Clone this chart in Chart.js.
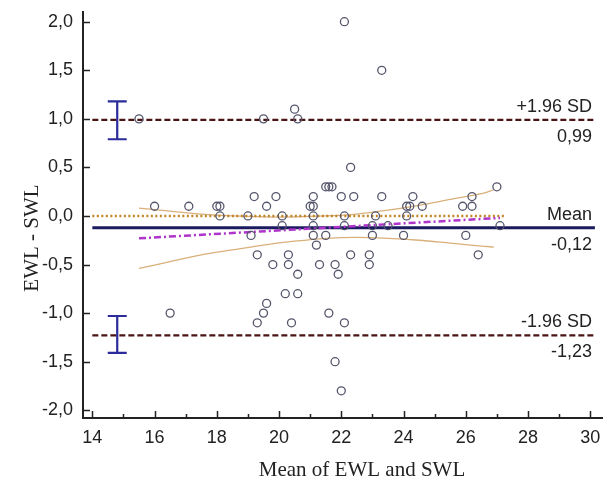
<!DOCTYPE html>
<html lang="en">
<head>
    <meta charset="UTF-8" />
    <title>Bland-Altman: EWL vs SWL</title>
    <script src="https://cdn.jsdelivr.net/npm/chart.js"></script>
    <style>
        body { margin: 0; background: #fff; }
        #wrap { width: 608px; height: 484px; }
    </style>
</head>
<body>
    <div id="wrap"><canvas id="baChart" width="608" height="484"></canvas></div>

    <script>
        // mean of the two methods (x) and their difference (y)
        const avgValues = [15.5, 19.5, 20.5, 20.6, 22.1, 23.3, 16.0, 17.1, 18.0, 18.1,
            18.1, 19.0, 19.2, 19.6, 19.9, 20.1, 20.1, 19.1, 19.3, 19.8,
            20.3, 20.3, 20.6, 20.2, 20.6, 19.6, 19.5, 19.3, 16.5, 20.4,
            21.6, 22.1, 21.8, 22.0, 22.3, 21.5, 21.6, 21.7, 21.1, 22.0,
            22.4, 23.3, 24.3, 26.2, 27.0, 21.0, 21.1, 24.1, 24.2, 24.6,
            25.9, 26.2, 21.1, 22.1, 23.1, 24.1, 21.1, 22.1, 23.0, 23.5,
            27.1, 21.1, 21.5, 23.0, 24.0, 26.0, 21.2, 22.3, 22.9, 26.4,
            21.3, 21.8, 22.9, 21.9];
        const diffValues = [1.0, 1.0, 1.1, 1.0, 2.0, 1.5, 0.1, 0.1, 0.1, 0.1,
            0.0, 0.0, 0.2, 0.1, 0.2, 0.0, -0.1, -0.2, -0.4, -0.5,
            -0.4, -0.5, -0.6, -0.8, -0.8, -0.9, -1.0, -1.1, -1.0, -1.1,
            -1.0, -1.1, -1.5, -1.8, 0.5, 0.3, 0.3, 0.3, 0.2, 0.2,
            0.2, 0.2, 0.2, 0.2, 0.3, 0.1, 0.1, 0.1, 0.1, 0.1,
            0.1, 0.1, 0.0, 0.0, 0.0, 0.0, -0.1, -0.1, -0.1, -0.1,
            -0.1, -0.2, -0.2, -0.2, -0.2, -0.2, -0.3, -0.4, -0.4, -0.4,
            -0.5, -0.5, -0.5, -0.6];

        // bias and limits of agreement
        const meanDiff = -0.12;
        const upperLoA = 0.99;
        const lowerLoA = -1.23;
        const refLineX = [14, 30.15];

        // line of equality (zero difference)
        const zeroLineX = [14, 27.3];

        // regression of differences on means, with its 95% CI curves
        const regX = [15.5, 27.1];
        const regY = [-0.23, -0.02];
        const ciX = [15.5, 16.5, 17.5, 18.5, 19.5, 20.5, 21.5, 22.5, 23.5, 24.5, 25.5, 26.5, 26.9];
        const ciUpperY = [0.08, 0.05, 0.02, 0.0, -0.01, -0.01, 0.0, 0.02, 0.06, 0.11, 0.17, 0.23, 0.27];
        const ciLowerY = [-0.54, -0.47, -0.40, -0.35, -0.30, -0.26, -0.23, -0.22, -0.23, -0.25, -0.28, -0.31, -0.32];

        // 95% CI of the limits of agreement
        const loaCiX = 14.8;
        const upperLoACi = [0.79, 1.18];
        const lowerLoACi = [-1.41, -1.03];

        const yTicks = [-2, -1.5, -1, -0.5, 0, 0.5, 1, 1.5, 2];
        const xMajorTicks = [14, 16, 18, 20, 22, 24, 26, 28, 30];
        const xMinorTicks = [15, 17, 19, 21, 23, 25, 27, 29];

        const axisColor = '#222';
        const fmt = v => v.toFixed(1).replace('.', ',');
        const fmt2 = v => v.toFixed(2).replace('.', ',');
        const pairs = (xs, ys) => xs.map((x, i) => ({ x: x, y: ys[i] }));
        const hLine = (xs, y) => xs.map(x => ({ x: x, y: y }));

        function lineSet(data, color, width, dash, extra) {
            return Object.assign({
                type: 'scatter', data: data, showLine: true, fill: false,
                borderColor: color, borderWidth: width, borderDash: dash || [],
                pointRadius: 0, pointHoverRadius: 0
            }, extra || {});
        }

        // inward tick marks, CI error bars, right-hand labels and axis titles
        const decorPlugin = {
            id: 'baDecor',
            afterDatasetsDraw(chart) {
                const { ctx, chartArea: ca, scales: { x, y } } = chart;
                ctx.save();

                ctx.strokeStyle = axisColor;
                ctx.lineWidth = 1.5;
                ctx.beginPath();
                yTicks.forEach(v => {
                    const py = Math.round(y.getPixelForValue(v)) + 0.5;
                    ctx.moveTo(ca.left, py); ctx.lineTo(ca.left + 7, py);
                });
                xMajorTicks.forEach(v => {
                    const px = Math.round(x.getPixelForValue(v)) + 0.5;
                    ctx.moveTo(px, ca.bottom); ctx.lineTo(px, ca.bottom - 7);
                });
                xMinorTicks.forEach(v => {
                    const px = Math.round(x.getPixelForValue(v)) + 0.5;
                    ctx.moveTo(px, ca.bottom); ctx.lineTo(px, ca.bottom - 4);
                });
                ctx.stroke();

                // error bars for the limits
                ctx.strokeStyle = '#2b2b9c';
                ctx.lineWidth = 2.2;
                [upperLoACi, lowerLoACi].forEach(ci => {
                    const px = x.getPixelForValue(loaCiX);
                    const y0 = y.getPixelForValue(ci[0]);
                    const y1 = y.getPixelForValue(ci[1]);
                    ctx.beginPath();
                    ctx.moveTo(px, y0); ctx.lineTo(px, y1);
                    ctx.moveTo(px - 9.5, y0); ctx.lineTo(px + 9.5, y0);
                    ctx.moveTo(px - 9.5, y1); ctx.lineTo(px + 9.5, y1);
                    ctx.stroke();
                });

                // labels on the right
                ctx.fillStyle = '#222';
                ctx.font = '18px "Liberation Sans", Arial, sans-serif';
                ctx.textAlign = 'right';
                ctx.textBaseline = 'middle';
                const tx = 592;
                [['+1.96 SD', upperLoA], ['Mean', meanDiff], ['-1.96 SD', lowerLoA]].forEach(([name, v]) => {
                    const py = y.getPixelForValue(v);
                    ctx.fillText(name, tx, py - 13);
                    ctx.fillText(fmt2(v), tx, py + 17);
                });

                // axis titles
                ctx.font = '21px "Liberation Serif", "Times New Roman", serif';
                ctx.textAlign = 'center';
                ctx.fillText('Mean of EWL and SWL', 362, 470);
                ctx.save();
                ctx.translate(32, 238);
                ctx.rotate(-Math.PI / 2);
                ctx.fillText('EWL - SWL', 0, 0);
                ctx.restore();

                ctx.restore();
            }
        };

        new Chart(document.getElementById('baChart'), {
            type: 'scatter',
            data: {
                datasets: [
                    {
                        label: 'Differences',
                        data: pairs(avgValues, diffValues),
                        pointStyle: 'circle',
                        pointRadius: 4,
                        pointBorderWidth: 1.3,
                        pointBorderColor: '#55566c',
                        pointBackgroundColor: 'rgba(255,255,255,0)',
                        order: 0
                    },
                    lineSet(hLine(refLineX, upperLoA), '#4a1414', 2.2, [6, 3], { order: 3 }),
                    lineSet(hLine(refLineX, lowerLoA), '#4a1414', 2.2, [6, 3], { order: 3 }),
                    lineSet(hLine(refLineX, meanDiff), '#1a1a5e', 3, [], { order: 2 }),
                    lineSet(hLine(zeroLineX, 0), '#c08426', 2.5, [2, 2.5], { order: 4 }),
                    lineSet(pairs(regX, regY), '#b034cc', 2.5, [7, 3, 2, 3], { order: 1 }),
                    lineSet(pairs(ciX, ciUpperY), '#d9b07a', 1.3, [], { order: 5, tension: 0.3 }),
                    lineSet(pairs(ciX, ciLowerY), '#d9b07a', 1.3, [], { order: 5, tension: 0.3 })
                ]
            },
            options: {
                responsive: false,
                animation: false,
                layout: { padding: { left: 0, top: 12, right: 3, bottom: 0 } },
                plugins: { legend: { display: false }, tooltip: { enabled: false } },
                scales: {
                    x: {
                        type: 'linear',
                        min: 13.7,
                        max: 30.4,
                        grid: { display: true, drawOnChartArea: false, drawTicks: false },
                        border: { display: true, color: axisColor, width: 2 },
                        ticks: {
                            padding: 9,
                            color: '#222',
                            font: { family: '"Liberation Sans", Arial, sans-serif', size: 18 },
                            callback: v => String(v)
                        },
                        afterBuildTicks: s => { s.ticks = xMajorTicks.map(v => ({ value: v })); },
                        afterFit: s => { s.height = 66; s.paddingLeft = 0; s.paddingRight = 0; }
                    },
                    y: {
                        type: 'linear',
                        min: -2.08,
                        max: 2.1,
                        grid: { display: true, drawOnChartArea: false, drawTicks: false },
                        border: { display: true, color: axisColor, width: 2 },
                        ticks: {
                            padding: 10,
                            color: '#222',
                            font: { family: '"Liberation Sans", Arial, sans-serif', size: 18 },
                            callback: v => fmt(v)
                        },
                        afterBuildTicks: s => { s.ticks = yTicks.map(v => ({ value: v })); },
                        afterFit: s => { s.width = 83; s.paddingTop = 0; s.paddingBottom = 0; }
                    }
                }
            },
            plugins: [decorPlugin]
        });
    </script>
</body>
</html>
